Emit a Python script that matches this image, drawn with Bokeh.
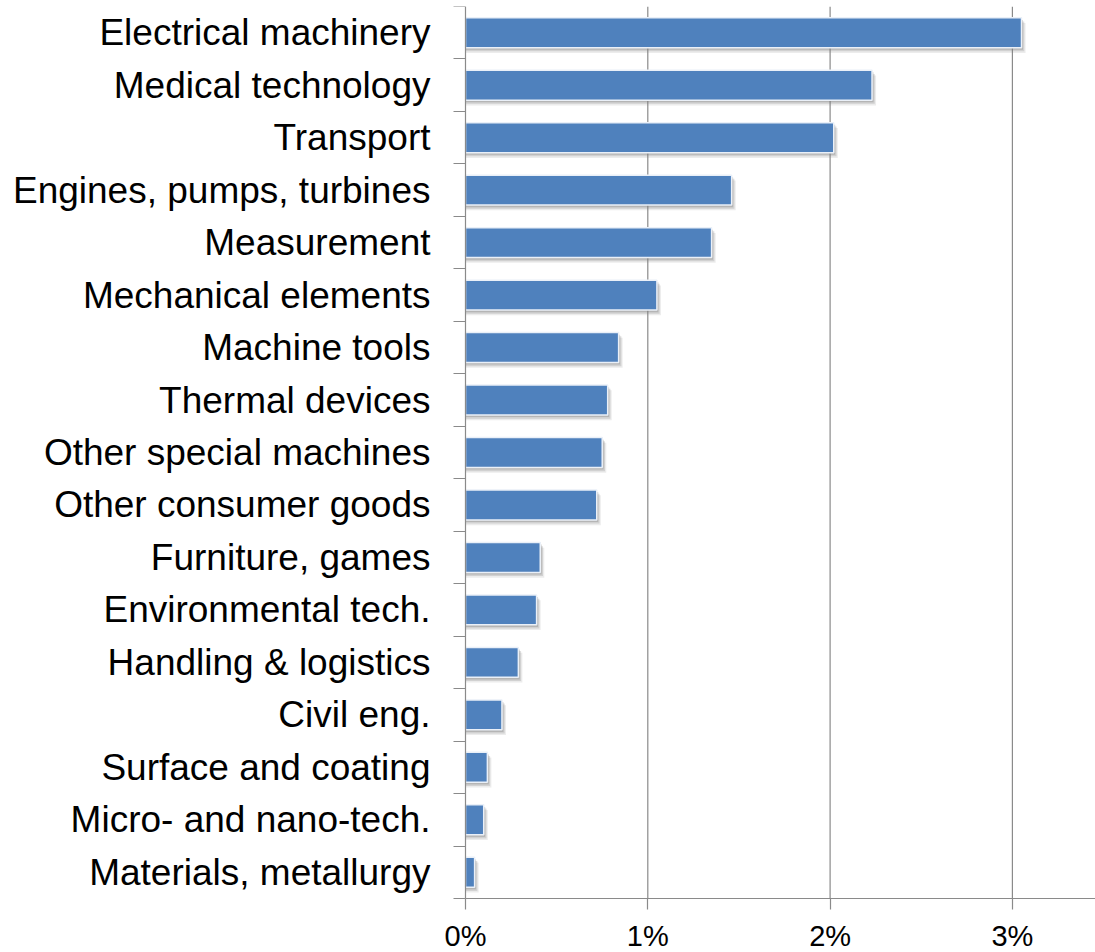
from bokeh.plotting import figure
from bokeh.models import FixedTicker, Range1d
from bokeh.embed import file_html
from bokeh.resources import INLINE

categories = [
    "Electrical machinery", "Medical technology", "Transport",
    "Engines, pumps, turbines", "Measurement", "Mechanical elements",
    "Machine tools", "Thermal devices", "Other special machines",
    "Other consumer goods", "Furniture, games", "Environmental tech.",
    "Handling & logistics", "Civil eng.", "Surface and coating",
    "Micro- and nano-tech.", "Materials, metallurgy",
]
values = [3.05, 2.23, 2.02, 1.46, 1.35, 1.05, 0.84, 0.78, 0.75, 0.72,
          0.41, 0.39, 0.29, 0.20, 0.12, 0.10, 0.05]
x_ticks = [0, 1, 2, 3]
x_tick_labels = ["0%", "1%", "2%", "3%"]

n = len(categories)
ypos = [n - 1 - i for i in range(n)]  # top category highest
cat_lo, cat_hi = -0.5, n - 0.5

BAR = "#4F81BD"
GRID = "#8A8A8A"
FONT = "Liberation Sans"

# page geometry (pixels)
W, H = 1095, 952
TOP = 6          # top of the category area
AXIS_X = 465     # pixel column of the value 0
AXIS_Y = 898     # pixel row of the category axis bottom
PX_PER_PCT = 182.3
unit = (AXIS_Y - TOP) / n
y_start = cat_lo - (H - AXIS_Y) / unit
x_start = -AXIS_X / PX_PER_PCT
x_end = (W - AXIS_X) / PX_PER_PCT

p = figure(width=W, height=H, output_backend="svg", toolbar_location=None,
           x_range=Range1d(x_start, x_end), y_range=Range1d(y_start, cat_hi),
           min_border_left=0, min_border_right=0, min_border_top=TOP,
           min_border_bottom=0)
p.outline_line_color = None
p.background_fill_color = "white"
p.border_fill_color = "white"

# vertical grid lines, spanning only the category area
p.segment(x0=x_ticks[1:], x1=x_ticks[1:], y0=cat_lo, y1=cat_hi,
          line_color=GRID, line_width=1.2)

# soft drop shadows
p.hbar(y=[y - 0.10 for y in ypos], left=0, right=[v + 0.022 for v in values],
       height=0.57, color="#808080", alpha=0.15, line_color=None)
p.hbar(y=[y - 0.07 for y in ypos], left=0, right=[v + 0.015 for v in values],
       height=0.57, color="#808080", alpha=0.25, line_color=None)
p.hbar(y=[y - 0.04 for y in ypos], left=0, right=[v + 0.008 for v in values],
       height=0.57, color="#808080", alpha=0.35, line_color=None)
# bars
p.hbar(y=ypos, left=0, right=values, height=0.57, fill_color=BAR,
       line_color="#EAF0F8", line_width=1.5)

p.xgrid.visible = False
p.ygrid.visible = False

# x axis (drawn at the bottom edge of the categories)
xa = p.xaxis[0]
xa.fixed_location = cat_lo
xa.bounds = (0, x_end)
xa.ticker = FixedTicker(ticks=x_ticks, minor_ticks=[])
xa.major_label_overrides = {t: l for t, l in zip(x_ticks, x_tick_labels)}
xa.axis_line_color = GRID
xa.axis_line_width = 1.2
xa.major_tick_line_color = GRID
xa.major_tick_line_width = 1.2
xa.major_tick_out = 11
xa.major_tick_in = 0
xa.minor_tick_out = 0
xa.minor_tick_in = 0
xa.major_label_standoff = 10
xa.major_label_text_font = FONT
xa.major_label_text_font_size = "29px"
xa.major_label_text_color = "black"

# y axis (drawn at value 0)
ya = p.yaxis[0]
ya.fixed_location = 0
ya.bounds = (cat_lo, cat_hi)
boundaries = [i - 0.5 for i in range(n + 1)]
ya.ticker = FixedTicker(ticks=ypos, minor_ticks=boundaries)
ya.major_label_overrides = {y: c for y, c in zip(ypos, categories)}
ya.axis_line_color = GRID
ya.axis_line_width = 1.2
ya.major_tick_out = 0
ya.major_tick_in = 0
ya.minor_tick_out = 12
ya.minor_tick_in = 0
ya.minor_tick_line_color = GRID
ya.minor_tick_line_width = 1.2
ya.major_label_standoff = 23
ya.major_label_text_font = FONT
ya.major_label_text_font_size = "37px"
ya.major_label_text_color = "black"

open("out.html", "w").write(file_html(p, INLINE))
